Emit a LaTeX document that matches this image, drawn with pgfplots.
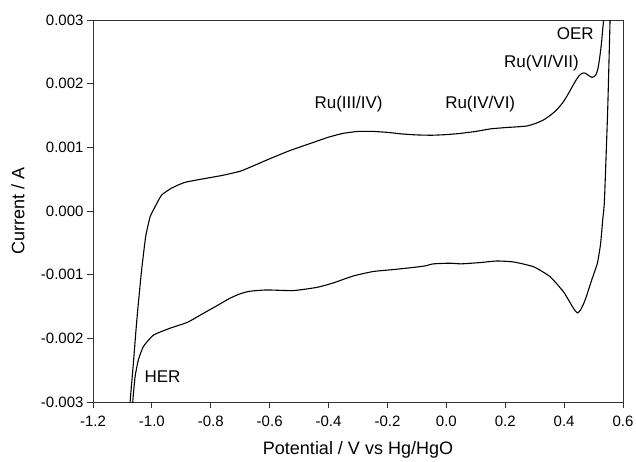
\documentclass[border=0pt]{standalone}
\usepackage{fontspec}
\setmainfont{Liberation Sans}
\usepackage{pgfplots}
\pgfplotsset{compat=1.18}
\begin{document}
\begin{tikzpicture}
\useasboundingbox (-93pt,-59pt) rectangle (543pt,402pt);
\begin{axis}[
  at={(0pt,0pt)}, anchor=south west,
  scale only axis, width=530pt, height=382pt,
  xmin=-1.2, xmax=0.6, ymin=-0.003, ymax=0.003,
  xtick={-1.2,-1,-0.8,-0.6,-0.4,-0.2,0,0.2,0.4,0.6},
  ytick={-0.003,-0.002,-0.001,0,0.001,0.002,0.003},
  scaled x ticks=false, scaled y ticks=false,
  xticklabel={\pgfmathprintnumber[fixed,fixed zerofill,precision=1,assume math mode=true]{\tick}},
  yticklabel={\pgfmathprintnumber[fixed,fixed zerofill,precision=3,assume math mode=true]{\tick}\hspace{6pt}},
  xticklabel style={yshift=-4pt},
  tick pos=left, tick align=outside, major tick length=6pt,
  axis line style={draw=black!80, line width=1pt},
  every tick/.style={black!80, line width=1pt},
  tick label style={font=\fontsize{15}{18}\selectfont},
  label style={font=\fontsize{18}{22}\selectfont},
  xlabel={Potential / V vs Hg/HgO},
  ylabel={Current / A},
  x label style={at={(axis description cs:0.5,-0.126)}, anchor=center},
  y label style={at={(axis description cs:-0.1415,0.5)}, anchor=center},
]
\addplot[black, line width=1.1pt, smooth, tension=0.3] coordinates {
(-1.078,-0.0034) (-1.074,-0.0030) (-1.063,-0.0024) (-1.054,-0.00187) (-1.048,-0.00155)
(-1.035,-0.00093) (-1.021,-0.00040) (-1.006,-0.00009) (-0.989,0.000068) (-0.967,0.00025)
(-0.933,0.00036) (-0.888,0.00045) (-0.820,0.00051) (-0.760,0.00056) (-0.700,0.000625)
(-0.650,0.00072) (-0.600,0.00082) (-0.531,0.00095) (-0.450,0.00108) (-0.400,0.00116)
(-0.350,0.00122) (-0.300,0.00125) (-0.250,0.00125) (-0.200,0.001235) (-0.150,0.00121)
(-0.100,0.001195) (-0.050,0.00119) (0.000,0.00120) (0.050,0.00122) (0.100,0.00125)
(0.150,0.00129) (0.200,0.00131) (0.250,0.001325) (0.273,0.001335) (0.300,0.00137)
(0.330,0.00143) (0.355,0.00151) (0.375,0.00159) (0.395,0.00170) (0.409,0.00180)
(0.425,0.00193) (0.437,0.00203) (0.450,0.00212) (0.460,0.00216) (0.468,0.00217)
(0.477,0.00215) (0.486,0.00212) (0.494,0.00210) (0.502,0.00211) (0.509,0.00215)
(0.515,0.00224) (0.519,0.00235) (0.524,0.00252) (0.528,0.00269) (0.531,0.00285)
(0.534,0.00300) (0.537,0.00330) (0.545,0.00360) (0.557,0.00330)
(0.556,0.00300) (0.548,0.00159) (0.537,0.00017) (0.531,-0.00014) (0.524,-0.00051)
(0.513,-0.00082) (0.494,-0.00108) (0.475,-0.00135) (0.465,-0.00147) (0.455,-0.00156)
(0.446,-0.00160) (0.438,-0.00157) (0.428,-0.00150) (0.398,-0.00127) (0.352,-0.00103)
(0.296,-0.000875) (0.228,-0.00080) (0.171,-0.000785) (0.115,-0.00081) (0.050,-0.00083)
(0.013,-0.00082) (-0.044,-0.00083) (-0.070,-0.00086) (-0.100,-0.00088) (-0.180,-0.00092)
(-0.248,-0.00095) (-0.316,-0.00102) (-0.384,-0.00113) (-0.440,-0.00120) (-0.520,-0.00125)
(-0.610,-0.00124) (-0.667,-0.00126) (-0.700,-0.00130) (-0.735,-0.00137) (-0.780,-0.00149)
(-0.830,-0.00162) (-0.880,-0.00175) (-0.938,-0.00184) (-0.995,-0.00195) (-1.029,-0.00213)
(-1.046,-0.00234) (-1.057,-0.00260) (-1.065,-0.00300) (-1.068,-0.00340)
};
\node[font=\fontsize{17}{20}\selectfont] at (axis cs:0.438,0.00279) {OER};
\node[font=\fontsize{17}{20}\selectfont] at (axis cs:0.323,0.00232) {Ru(VI/VII)};
\node[font=\fontsize{17}{20}\selectfont] at (axis cs:0.115,0.00168) {Ru(IV/VI)};
\node[font=\fontsize{17}{20}\selectfont] at (axis cs:-0.332,0.00168) {Ru(III/IV)};
\node[font=\fontsize{17}{20}\selectfont] at (axis cs:-0.964,-0.00260) {HER};
\end{axis}
\end{tikzpicture}
\end{document}
